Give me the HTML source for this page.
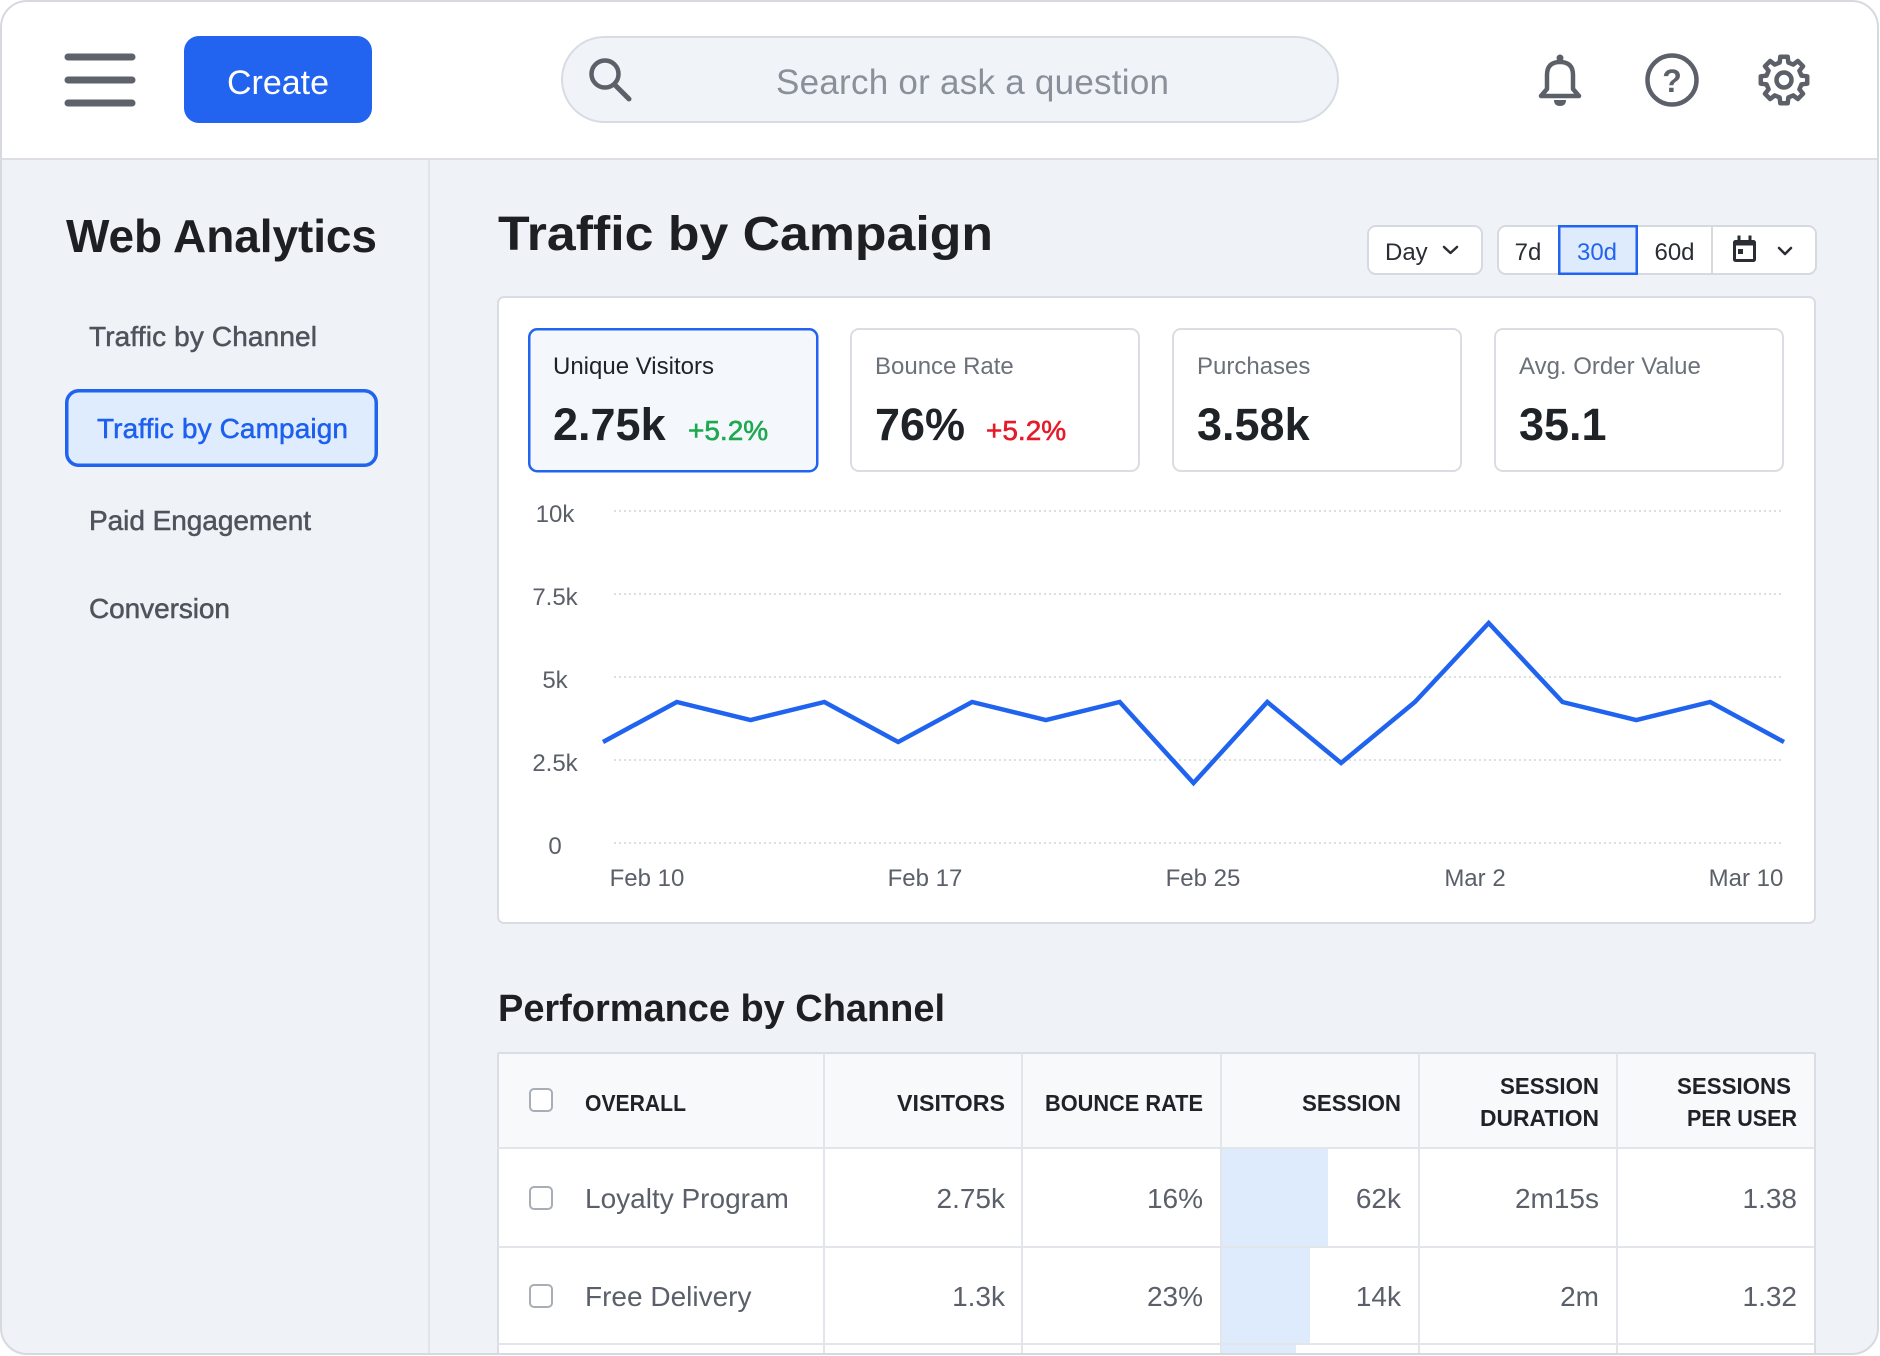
<!DOCTYPE html>
<html>
<head>
<meta charset="utf-8">
<style>
html,body{margin:0;padding:0;background:#ffffff;width:1880px;height:1356px;overflow:hidden;}
svg{display:block;}
text{font-family:"Liberation Sans",Arial,sans-serif;}
</style>
</head>
<body>
<svg width="1880" height="1356" viewBox="0 0 1880 1356" xmlns="http://www.w3.org/2000/svg">
<defs>
<clipPath id="frame"><rect x="1" y="1" width="1877" height="1353" rx="26" ry="26"/></clipPath>
</defs>
<rect x="0" y="0" width="1880" height="1356" fill="#ffffff"/>
<g clip-path="url(#frame)">
  <rect x="0" y="0" width="1880" height="1356" fill="#eff2f7"/>
  <rect x="0" y="0" width="1880" height="159" fill="#ffffff"/>
  <line x1="0" y1="159" x2="1880" y2="159" stroke="#dcdfe4" stroke-width="2"/>
  <line x1="429" y1="160" x2="429" y2="1356" stroke="#e1e4e9" stroke-width="2"/>

  <!-- Hamburger -->
  <g stroke="#5e626b" stroke-width="7" stroke-linecap="round">
    <line x1="68" y1="57" x2="132" y2="57"/>
    <line x1="68" y1="80" x2="132" y2="80"/>
    <line x1="68" y1="103" x2="132" y2="103"/>
  </g>

  <!-- Create button -->
  <rect x="184" y="36" width="188" height="87" rx="15" fill="#2263ef"/>
  <text x="278" y="94" font-size="34" fill="#ffffff" text-anchor="middle">Create</text>

  <!-- Search -->
  <rect x="562" y="37" width="776" height="85" rx="42.5" fill="#f0f3f8" stroke="#d8dce2" stroke-width="2"/>
  <circle cx="605" cy="74" r="13.5" fill="none" stroke="#5b6069" stroke-width="4.5"/>
  <line x1="615" y1="85" x2="629" y2="99" stroke="#5b6069" stroke-width="5" stroke-linecap="round"/>
  <text x="776" y="94" font-size="35" fill="#8a9099" textLength="393">Search or ask a question</text>

  <!-- Bell -->
  <g fill="none" stroke="#5b6069" stroke-width="4.5" stroke-linejoin="round">
    <path d="M1541 96 L1547 89 L1547 75 Q1547 62 1560 62 Q1573 62 1573 75 L1573 89 L1579 96 Z"/>
  </g>
  <circle cx="1560" cy="58" r="3.5" fill="#5b6069"/>
  <path d="M1554 100 L1566 100 Q1566 106 1560 106 Q1554 106 1554 100 Z" fill="#5b6069"/>

  <!-- Help -->
  <circle cx="1672" cy="80" r="24.5" fill="none" stroke="#5b6069" stroke-width="4.5"/>
  <text x="1672" y="92" font-size="32" font-weight="bold" fill="#5b6069" text-anchor="middle">?</text>

  <!-- Gear -->
  <g transform="translate(1784,80)" fill="none" stroke="#5b6069" stroke-width="4.5" stroke-linejoin="round">
    <path d="M17.47 -4.35 L23.21 -3.68 L23.21 3.68 L17.47 4.35 L15.43 9.27 L19.01 13.81 L13.81 19.01 L9.27 15.43 L4.35 17.47 L3.68 23.21 L-3.68 23.21 L-4.35 17.47 L-9.27 15.43 L-13.81 19.01 L-19.01 13.81 L-15.43 9.27 L-17.47 4.35 L-23.21 3.68 L-23.21 -3.68 L-17.47 -4.35 L-15.43 -9.27 L-19.01 -13.81 L-13.81 -19.01 L-9.27 -15.43 L-4.35 -17.47 L-3.68 -23.21 L3.68 -23.21 L4.35 -17.47 L9.27 -15.43 L13.81 -19.01 L19.01 -13.81 L15.43 -9.27 Z"/>
    <circle cx="0" cy="0" r="7.5"/>
  </g>

  <!-- Sidebar -->
  <text x="66" y="252" font-size="46" font-weight="bold" fill="#1d1f23" textLength="311">Web Analytics</text>
  <g font-size="28" fill="#4f535b" stroke="#4f535b" stroke-width="0.5">
    <text x="89" y="346" textLength="228">Traffic by Channel</text>
    <text x="89" y="530" textLength="222">Paid Engagement</text>
    <text x="89" y="618" textLength="141">Conversion</text>
  </g>
  <rect x="66.75" y="390.75" width="309.5" height="74.5" rx="12" fill="#deecfd" stroke="#1f63ef" stroke-width="3.5"/>
  <text x="97" y="438" font-size="28" fill="#1d5fef" stroke="#1d5fef" stroke-width="0.5" textLength="251">Traffic by Campaign</text>

  <!-- Main title -->
  <text x="498" y="250" font-size="48" font-weight="bold" fill="#1d1f23" textLength="495" lengthAdjust="spacingAndGlyphs">Traffic by Campaign</text>

  <!-- Controls -->
  <rect x="1368" y="226" width="114" height="48" rx="8" fill="#ffffff" stroke="#d6dae0" stroke-width="2"/>
  <text x="1385" y="260" font-size="24" fill="#2a2d33">Day</text>
  <polyline points="1444,247 1450.5,253 1457,247" fill="none" stroke="#2a2d33" stroke-width="2.5" stroke-linecap="round" stroke-linejoin="round"/>

  <rect x="1498" y="226" width="318" height="48" rx="8" fill="#ffffff" stroke="#d6dae0" stroke-width="2"/>
  <line x1="1712" y1="227" x2="1712" y2="273" stroke="#d6dae0" stroke-width="2"/>
  <rect x="1559.25" y="226.25" width="77.5" height="47.5" fill="#deebfc" stroke="#2264ef" stroke-width="2.5"/>
  <text x="1528" y="260" font-size="24" fill="#2a2d33" text-anchor="middle">7d</text>
  <text x="1597" y="260" font-size="24" fill="#2264ef" text-anchor="middle">30d</text>
  <text x="1674.5" y="260" font-size="24" fill="#2a2d33" text-anchor="middle">60d</text>
  <g fill="none" stroke="#2a2d33" stroke-width="3">
    <rect x="1734.5" y="241.5" width="20" height="19" rx="1"/>
    <line x1="1739" y1="235.5" x2="1739" y2="241"/>
    <line x1="1750" y1="235.5" x2="1750" y2="241"/>
  </g>
  <rect x="1734.5" y="241.5" width="20" height="4" fill="#2a2d33"/>
  <rect x="1738" y="249" width="5" height="5" fill="#2a2d33"/>
  <polyline points="1779,248 1785,254 1791,248" fill="none" stroke="#2a2d33" stroke-width="2.5" stroke-linecap="round" stroke-linejoin="round"/>

  <!-- Chart card -->
  <rect x="498" y="297" width="1317" height="626" rx="6" fill="#ffffff" stroke="#d9dde3" stroke-width="2"/>

  <!-- KPI cards -->
  <rect x="529.25" y="329.25" width="288" height="142" rx="8" fill="#f4f8fd" stroke="#2264ef" stroke-width="2.5"/>
  <rect x="851" y="329" width="288" height="142" rx="8" fill="#ffffff" stroke="#dadde2" stroke-width="2"/>
  <rect x="1173" y="329" width="288" height="142" rx="8" fill="#ffffff" stroke="#dadde2" stroke-width="2"/>
  <rect x="1495" y="329" width="288" height="142" rx="8" fill="#ffffff" stroke="#dadde2" stroke-width="2"/>

  <text x="553" y="374" font-size="24" fill="#1f2328">Unique Visitors</text>
  <text x="875" y="374" font-size="24" fill="#6b7079">Bounce Rate</text>
  <text x="1197" y="374" font-size="24" fill="#6b7079">Purchases</text>
  <text x="1519" y="374" font-size="24" fill="#6b7079">Avg. Order Value</text>

  <g font-size="45" font-weight="bold" fill="#1f2328">
    <text x="553" y="440">2.75k</text>
    <text x="875" y="440">76%</text>
    <text x="1197" y="440">3.58k</text>
    <text x="1519" y="440">35.1</text>
  </g>
  <text x="688" y="440" font-size="28" fill="#1ea94f" stroke="#1ea94f" stroke-width="0.6">+5.2%</text>
  <text x="986" y="440" font-size="28" fill="#e41b2a" stroke="#e41b2a" stroke-width="0.6">+5.2%</text>

  <!-- Grid -->
  <g stroke="#cfd4da" stroke-width="1.5" stroke-dasharray="2 3">
    <line x1="614" y1="511" x2="1784" y2="511"/>
    <line x1="614" y1="594" x2="1784" y2="594"/>
    <line x1="614" y1="677" x2="1784" y2="677"/>
    <line x1="614" y1="760" x2="1784" y2="760"/>
    <line x1="614" y1="843" x2="1784" y2="843"/>
  </g>
  <g font-size="24" fill="#5a5f68" text-anchor="middle">
    <text x="555" y="522">10k</text>
    <text x="555" y="605">7.5k</text>
    <text x="555" y="688">5k</text>
    <text x="555" y="771">2.5k</text>
    <text x="555" y="854">0</text>
    <text x="647" y="886">Feb 10</text>
    <text x="925" y="886">Feb 17</text>
    <text x="1203" y="886">Feb 25</text>
    <text x="1475" y="886">Mar 2</text>
    <text x="1746" y="886">Mar 10</text>
  </g>
  <polyline fill="none" stroke="#1f63ef" stroke-width="4.5" stroke-linejoin="miter"
    points="603,742 676.8,702 750.6,720 824.4,702 898.2,742 972.1,702 1045.9,720 1119.7,702 1193.5,783 1267.3,702 1341.1,763 1414.9,702 1488.7,623 1562.5,702 1636.3,720 1710.2,702 1784,742"/>

  <!-- Performance by Channel -->
  <text x="498" y="1021" font-size="38" font-weight="bold" fill="#1d1f23" textLength="447">Performance by Channel</text>

  <!-- Table -->
  <rect x="498" y="1053" width="1317" height="303" fill="#ffffff"/>
  <line x1="498" y1="1053" x2="1815" y2="1053" stroke="#dadde3" stroke-width="2"/>
  <line x1="498" y1="1053" x2="498" y2="1356" stroke="#dadde3" stroke-width="2"/>
  <line x1="1815" y1="1053" x2="1815" y2="1356" stroke="#dadde3" stroke-width="2"/>
  <rect x="499" y="1054" width="1315" height="94" fill="#f7f9fb"/>
  <rect x="1221" y="1149" width="107" height="98" fill="#ddebfc"/>
  <rect x="1221" y="1248" width="89" height="96" fill="#ddebfc"/>
  <rect x="1221" y="1345" width="75" height="11" fill="#ddebfc"/>
  <g stroke="#e2e5e9" stroke-width="2">
    <line x1="498" y1="1148" x2="1815" y2="1148"/>
    <line x1="498" y1="1247" x2="1815" y2="1247"/>
    <line x1="498" y1="1344" x2="1815" y2="1344"/>
    <line x1="824" y1="1053" x2="824" y2="1356"/>
    <line x1="1022" y1="1053" x2="1022" y2="1356"/>
    <line x1="1221" y1="1053" x2="1221" y2="1356"/>
    <line x1="1419" y1="1053" x2="1419" y2="1356"/>
    <line x1="1617" y1="1053" x2="1617" y2="1356"/>
  </g>
  <g fill="#ffffff" stroke="#a9aeb6" stroke-width="2">
    <rect x="530" y="1089" width="22" height="22" rx="4"/>
    <rect x="530" y="1187" width="22" height="22" rx="4"/>
    <rect x="530" y="1285" width="22" height="22" rx="4"/>
  </g>
  <g font-size="23" font-weight="bold" fill="#1f2328">
    <text x="585" y="1111" textLength="101" lengthAdjust="spacingAndGlyphs">OVERALL</text>
    <text x="897" y="1111" textLength="108" lengthAdjust="spacingAndGlyphs">VISITORS</text>
    <text x="1045" y="1111" textLength="158" lengthAdjust="spacingAndGlyphs">BOUNCE RATE</text>
    <text x="1302" y="1111" textLength="99" lengthAdjust="spacingAndGlyphs">SESSION</text>
    <text x="1500" y="1094" textLength="99" lengthAdjust="spacingAndGlyphs">SESSION</text>
    <text x="1480" y="1126" textLength="119" lengthAdjust="spacingAndGlyphs">DURATION</text>
    <text x="1677" y="1094" textLength="114" lengthAdjust="spacingAndGlyphs">SESSIONS</text>
    <text x="1687" y="1126" textLength="110" lengthAdjust="spacingAndGlyphs">PER USER</text>
  </g>
  <g font-size="28" fill="#5a5f69">
    <text x="585" y="1208">Loyalty Program</text>
    <text x="585" y="1306">Free Delivery</text>
  </g>
  <g font-size="28" fill="#5a5f69" text-anchor="end">
    <text x="1005" y="1208">2.75k</text>
    <text x="1203" y="1208">16%</text>
    <text x="1401" y="1208">62k</text>
    <text x="1599" y="1208">2m15s</text>
    <text x="1797" y="1208">1.38</text>
    <text x="1005" y="1306">1.3k</text>
    <text x="1203" y="1306">23%</text>
    <text x="1401" y="1306">14k</text>
    <text x="1599" y="1306">2m</text>
    <text x="1797" y="1306">1.32</text>
  </g>
</g>
<rect x="1" y="1" width="1877" height="1353" rx="26" ry="26" fill="none" stroke="#d6d9de" stroke-width="2"/>
</svg>
</body>
</html>
